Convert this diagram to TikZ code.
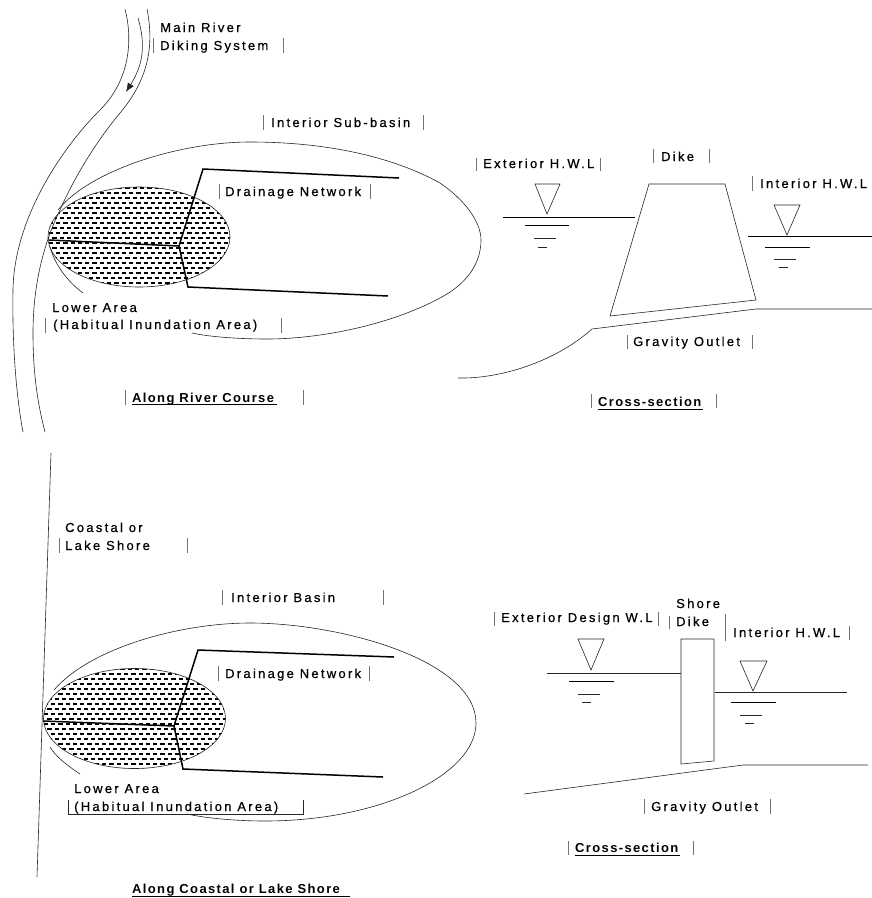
\documentclass[tikz,border=0pt]{standalone}
\usepackage{fontspec}
\setmainfont{Liberation Sans}
\newfontfamily\lblfont[LetterSpace=17.5,FakeBold=0.6]{Liberation Sans}
\newfontfamily\lblbold[LetterSpace=10.5,BoldFont={Liberation Sans Bold}]{Liberation Sans}
\usetikzlibrary{arrows.meta}
\tikzset{
 thinline/.style={draw=black!85,line width=0.6pt},
 waterline/.style={draw=black,line width=0.8pt},
 heavyline/.style={draw=black,line width=1.5pt,line join=miter},
 lbl/.style={anchor=base west,inner sep=0pt,font=\fontsize{13}{13}\selectfont\lblfont,text=black},
 ttl/.style={anchor=base west,inner sep=0pt,font=\fontsize{13}{13}\selectfont\lblbold\bfseries,text=black},
 tick/.style={draw=black!55,line width=0.6pt},
 hatchdots/.style={draw=black,line width=2pt,dash pattern=on 4.3pt off 3pt},
 ulin/.style={draw=black,line width=0.7pt},
}
\begin{document}
\begin{tikzpicture}[x=1pt,y=-1pt]
\useasboundingbox (0,0) rectangle (872,898);
% ---- top left: hatch
\begin{scope}
 \clip (139,237) ellipse [x radius=91,y radius=50];
 \foreach \r in {0,...,20}{
   \pgfmathsetmacro{\yy}{188+\r*5}
   \pgfmathsetmacro{\ph}{mod(\r,2)*3.65}
   \draw[hatchdots,dash phase=\ph pt] (45,\yy) -- (235,\yy);
 }
\end{scope}
\draw[thinline] (139,237) ellipse [x radius=91,y radius=50];
% river banks
\draw[thinline] (125,9) .. controls (133,40) and (130,80) .. (100,110) .. controls (60,150) and (14,220) .. (13,290) .. controls (12,350) and (17,400) .. (23,432);
\draw[thinline] (147,9) .. controls (153,40) and (152,75) .. (120,113) .. controls (95,143) and (73,180) .. (60,210) .. controls (38,255) and (33,300) .. (33,333) .. controls (33,375) and (38,405) .. (45,432);
\draw[thinline,-{Latex[length=9pt,width=7pt]}] (138,18) .. controls (146,45) and (143,65) .. (126,92);
% interior sub-basin
\draw[thinline] (58,210) .. controls (90,170) and (180,142) .. (250,142) .. controls (330,142) and (395,158) .. (440,183) .. controls (465,200) and (481,222) .. (481,240) .. controls (481,265) and (465,285) .. (440,298) .. controls (390,325) and (320,339) .. (267,339) .. controls (240,339) and (210,337) .. (192,333);
\draw[thinline] (50,247) .. controls (55,265) and (68,282) .. (83,293);
% drainage
\draw[heavyline] (399,178) -- (203,169) -- (179,246) -- (49,240);
\draw[heavyline] (388,296) -- (188,287) -- (179,246);
% labels top-left
\node[lbl] (mr) at (160,32) {Main River};
\node[lbl] (ds) at (160,50) {Diking System};
\node[lbl] (isb) at (271,127) {Interior Sub-basin};
\node[lbl] (dn) at (225,196) {Drainage Network};
\node[lbl] (la) at (52,312) {Lower Area};
\node[lbl] (hia) at (53,329) {(Habitual Inundation Area)};
\node[ttl] (arc) at (132,402) {Along River Course};
\draw[ulin] (132,404) -- (277,404);
\foreach \x/\a/\b in {153/38/53, 283/38/53, 263/115/130, 423/115/130, 219/184/199, 370/184/199, 45/318/333, 281/318/333, 125/390/405, 303/390/405}{
  \draw[tick] (\x,\a) -- (\x,\b);}
% ---- top right
\foreach \x/\a/\b in {476/158/171, 600/158/171, 653/149/163, 709/149/163, 752/176/191, 627/335/349, 752/335/349, 591/394/408, 716/394/408}{
  \draw[tick] (\x,\a) -- (\x,\b);}
\node[lbl] (ehwl) at (483,168) {Exterior H.W.L};
\node[lbl] (dk) at (661,161) {Dike};
\node[lbl] (ihwl) at (760,188) {Interior H.W.L};
\node[lbl] (go) at (633,346) {Gravity Outlet};
\node[ttl] (cs) at (598,406) {Cross-section};
\draw[ulin] (598,409) -- (703,409);
\draw[thinline] (535,184) -- (560,184) -- (547,214) -- cycle;
\draw[waterline] (503,217) -- (635,217);
\draw[waterline] (525,225) -- (569,225);
\draw[thinline] (534,238) -- (556,238);
\draw[thinline] (538,247) -- (547,247);
\draw[thinline] (774,205) -- (800,205) -- (787,235) -- cycle;
\draw[waterline] (748,236) -- (872,236);
\draw[waterline] (765,247) -- (810,247);
\draw[thinline] (774,259) -- (796,259);
\draw[thinline] (779,267) -- (788,267);
\draw[thinline] (610,316) -- (649,184) -- (725,184) -- (756,300) -- cycle;
\draw[thinline] (458,378) .. controls (500,379) and (555,362) .. (592,329) -- (756,309) -- (872,309);
% ---- bottom left
\begin{scope}
 \clip (134.5,718.5) ellipse [x radius=91,y radius=50];
 \foreach \r in {0,...,20}{
   \pgfmathsetmacro{\yy}{669+\r*5}
   \pgfmathsetmacro{\ph}{mod(\r,2)*3.65}
   \draw[hatchdots,dash phase=\ph pt] (40,\yy) -- (230,\yy);
 }
\end{scope}
\draw[thinline] (134.5,718.5) ellipse [x radius=91,y radius=50];
\draw[thinline] (51,453) -- (37,877);
\draw[thinline] (54,690) .. controls (90,648) and (180,623) .. (250,623) .. controls (340,623) and (476,660) .. (476,723) .. controls (476,775) and (380,821) .. (265,821) .. controls (235,821) and (205,818) .. (187,814);
\draw[thinline] (50,747) .. controls (56,757) and (68,766) .. (80,774);
\draw[heavyline] (394,657) -- (198,650) -- (174,726) -- (43,721);
\draw[heavyline] (383,777) -- (183,769) -- (174,726);
\node[lbl] (cl) at (65,532) {Coastal or};
\node[lbl] (ls) at (65,550) {Lake Shore};
\node[lbl] (ib) at (231,602) {Interior Basin};
\node[lbl] (dn2) at (225,678) {Drainage Network};
\node[lbl] (la2) at (74,793) {Lower Area};
\node[lbl] (hia2) at (74,811) {(Habitual Inundation Area)};
\node[ttl] (acl) at (132,893) {Along Coastal or Lake Shore};
\draw[ulin] (132,896) -- (350,896);
\draw[thinline] (68,800) -- (68,814) -- (303,814) -- (303,800);
\foreach \x/\a/\b in {59/538/553, 187/538/553, 222/590/605, 383/590/605, 218/666/681, 369/666/681}{
  \draw[tick] (\x,\a) -- (\x,\b);}
% ---- bottom right
\foreach \x/\a/\b in {494/612/626, 658/612/626, 669/616/629, 725/614/641, 849/626/640, 644/799/814, 770/799/814, 568/841/855, 693/841/855}{
  \draw[tick] (\x,\a) -- (\x,\b);}
\node[lbl] (edwl) at (501,622) {Exterior Design W.L};
\node[lbl] (sh) at (676,608) {Shore};
\node[lbl] (dk2) at (676,626) {Dike};
\node[lbl] (ihwl2) at (733,637) {Interior H.W.L};
\node[lbl] (go2) at (651,811) {Gravity Outlet};
\node[ttl] (cs2) at (575,852) {Cross-section};
\draw[ulin] (575,855) -- (680,855);
\draw[thinline] (578,639) -- (604,639) -- (591,670) -- cycle;
\draw[thinline] (547,673) -- (681,673);
\draw[waterline] (569,681) -- (614,681);
\draw[thinline] (578,694) -- (600,694);
\draw[thinline] (582,702) -- (591,702);
\draw[thinline] (681,639) -- (714,639) -- (714,761) -- (681,764) -- cycle;
\draw[thinline] (740,661) -- (767,661) -- (753,691) -- cycle;
\draw[thinline] (715,692) -- (847,692);
\draw[waterline] (731,702) -- (776,702);
\draw[thinline] (740,715) -- (762,715);
\draw[thinline] (745,723) -- (754,723);
\draw[thinline] (524,794) -- (743,765) -- (868,765);
\end{tikzpicture}
\end{document}
